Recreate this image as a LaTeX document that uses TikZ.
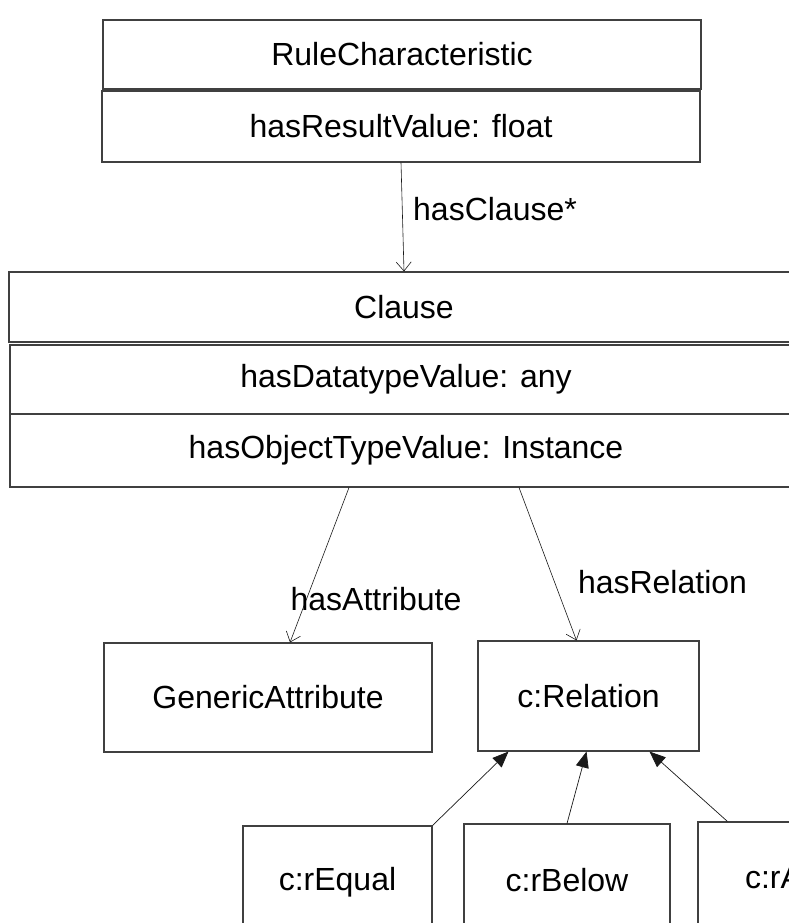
\documentclass[tikz,border=0pt]{standalone}
\usepackage{fontspec}
\setmainfont{Liberation Sans}
\usepackage{tikz}
\usetikzlibrary{arrows.meta}

\tikzset{
  cls/.style={draw=black!75, line width=1.1pt, rectangle, inner sep=0pt,
              minimum height=70pt, font=\fontsize{32}{38}\selectfont},
  lbl/.style={inner sep=0pt, font=\fontsize{32}{38}\selectfont},
  assoc/.style={draw=black!90, line width=0.6pt, -{Straight Barb[length=9pt,width=15pt]}},
  gen/.style={draw=black!90, line width=0.7pt, -{Triangle[length=16pt,width=13pt]}}
}

\begin{document}
\begin{tikzpicture}[x=1pt, y=-1pt]
                \useasboundingbox (0,0) rectangle (789,923);
                \clip (0,0) rectangle (789,923);
                \fill[white] (0,0) rectangle (789,923);

                % rule characteristic
                \node[cls, minimum width=598pt, minimum height=69pt] (rc) at (402,54.5) {RuleCharacteristic};
                \node[cls, minimum width=598pt, minimum height=71pt] (rcval) at (401,126.5) {hasResultValue: float};

                % clause
                \node[cls, minimum width=790pt] (clause) at (404,307) {Clause};
                \node[cls, minimum width=792pt, minimum height=69pt] (dtval) at (406,379.5) {hasDatatypeValue: any};
                \node[cls, minimum width=792pt, minimum height=73pt] (otval) at (406,450.5) {hasObjectTypeValue: Instance};

                \node[cls, minimum width=328pt, minimum height=109pt] (genattr) at (268,697.5) {GenericAttribute};
                \node[cls, minimum width=221pt, minimum height=110pt] (rel) at (588.5,696) {c:Relation};

                \node[cls, minimum width=189pt, minimum height=112pt] (requal) at (337.5,882) {c:rEqual};
                \node[cls, minimum width=206pt, minimum height=112pt] (rbelow) at (567,880) {c:rBelow};
                \node[cls, minimum height=112pt, inner xsep=47pt, text width=126pt, align=left] (rabove) at (808,878) {c:rA};

                % associations
                \draw[assoc] (rcval.south) -- (clause.north);
                \node[lbl, anchor=west] (lclause) at (413,209) {hasClause*};

                \draw[assoc] ([xshift=-57pt]otval.south) -- ([xshift=22pt]genattr.north);
                \node[lbl] (lattr) at (376,599) {hasAttribute};

                \draw[assoc] ([xshift=113pt]otval.south) -- ([xshift=-12pt]rel.north);
                \node[lbl] (lrel) at (662.5,582.5) {hasRelation};

                % subclasses
                \draw[gen] (requal.north east) -- ([xshift=-80pt]rel.south);
                \draw[gen] (rbelow.north) -- ([xshift=-2pt]rel.south);
                \draw[gen] ([xshift=30pt]rabove.north west) -- ([xshift=61pt]rel.south);
            \end{tikzpicture}
\end{document}
